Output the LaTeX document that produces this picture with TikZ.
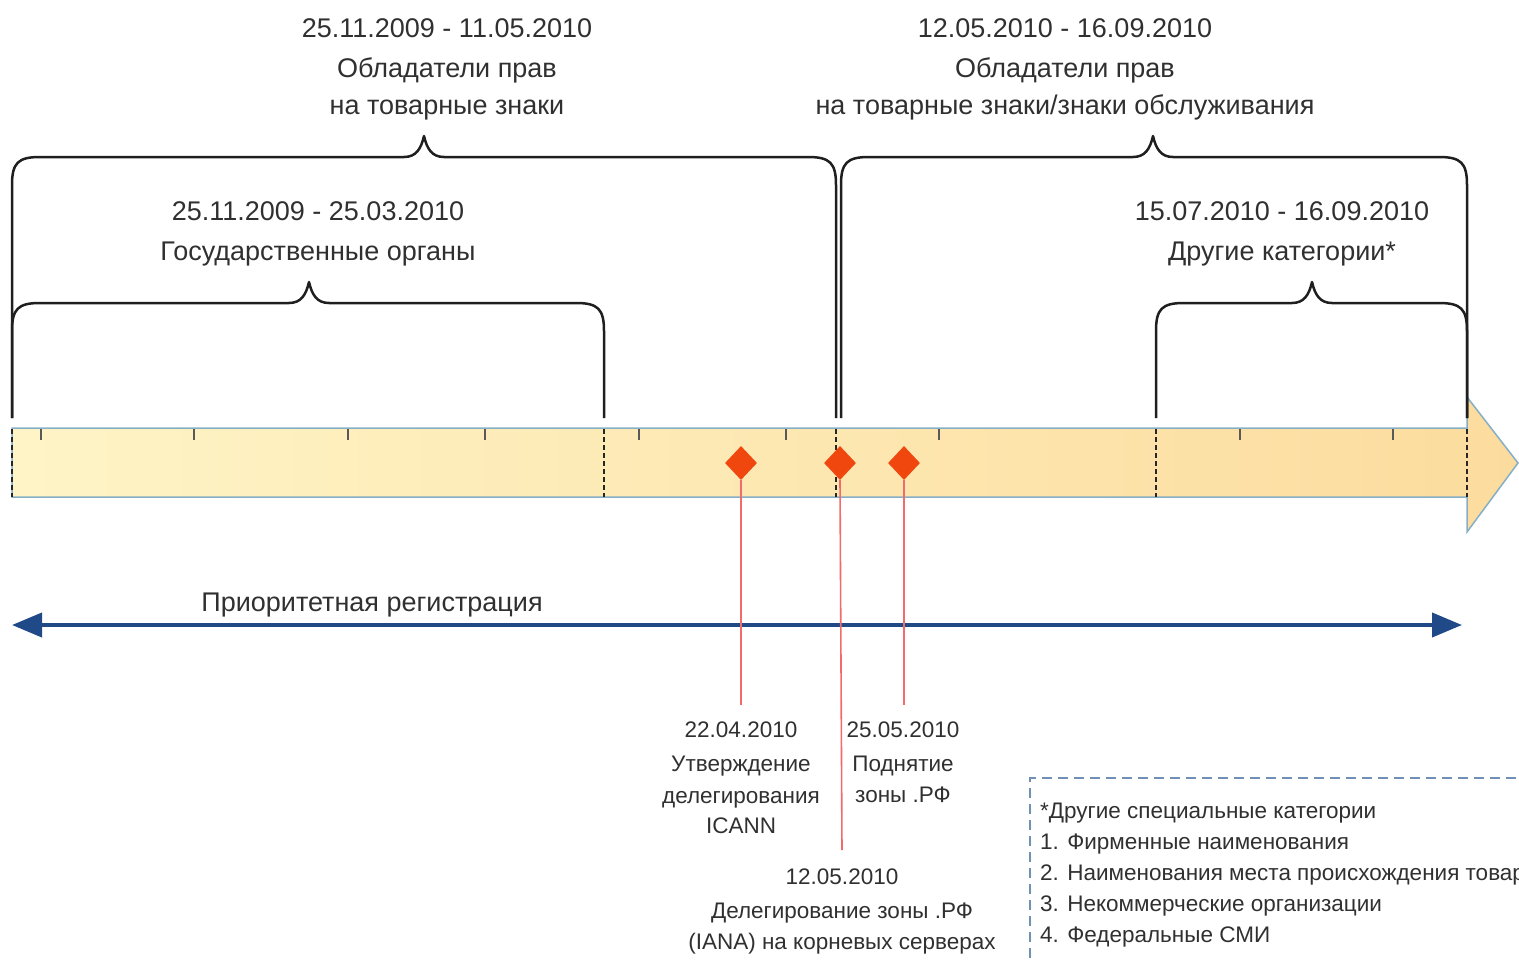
\documentclass[tikz,border=0pt]{standalone}
\usepackage{fontspec}
\setmainfont{Liberation Sans}
\usetikzlibrary{shapes.geometric,arrows.meta}
\definecolor{txt}{HTML}{303030}
\definecolor{barL}{HTML}{FEF4C6}
\definecolor{barR}{HTML}{FCDC9E}
\definecolor{barEdge}{HTML}{86AFC6}
\definecolor{dia}{HTML}{F0470F}
\definecolor{redline}{HTML}{F26A6A}
\definecolor{navy}{HTML}{1F4A87}
\definecolor{boxdash}{HTML}{6F8FB3}
\newcommand\mybrace[5]{% x1, x2, peak x, top y, bottom y
  \draw[bracestyle] (#1,#5) -- (#1,{#4+28}) .. controls (#1,{#4+6}) and ({#1+6},#4) .. ({#1+28},#4)
    -- ({#3-20},#4) .. controls ({#3-8},#4) and ({#3-3},{#4-8}) .. (#3,{#4-21})
    .. controls ({#3+3},{#4-8}) and ({#3+8},#4) .. ({#3+20},#4)
    -- ({#2-28},#4) .. controls ({#2-6},#4) and (#2,{#4+6}) .. (#2,{#4+28}) -- (#2,#5);}
\begin{document}
\begin{tikzpicture}[x=1pt,y=-1pt,
  big/.style={font=\fontsize{27}{30}\selectfont, text=txt, inner sep=0, anchor=base},
  small/.style={font=\fontsize{22.5}{26}\selectfont, text=txt, inner sep=0, anchor=base},
  legendtxt/.style={font=\fontsize{22.5}{26}\selectfont, text=txt, inner sep=0, anchor=base west},
  bracestyle/.style={line width=2.5pt, draw=black!88, line join=round},
  tickmark/.style={line width=1.6pt, draw=black!65},
  divider/.style={line width=1.4pt, draw=black!85, dash pattern=on 5pt off 3pt},
  marker/.style={diamond, fill=dia, minimum width=32pt, minimum height=34pt, inner sep=0},
  stem/.style={line width=1.6pt, draw=redline}]
\useasboundingbox (0,0) rectangle (1519,964);
\clip (0,0) rectangle (1519,964);

% timeline bar
\path[left color=barL, right color=barR, draw=barEdge, line width=1.5pt, line join=miter]
  (12,428) -- (1467,428) -- (1467,397) -- (1518,463) -- (1467,532) -- (1467,497) -- (12,497) -- cycle;
\foreach \t in {41,194,348,485,639,786,939,1240,1393}
  \draw[tickmark] (\t,429) -- (\t,440);
\foreach \d in {12,604,836,1156,1467}
  \draw[divider] (\d,429) -- (\d,497);

% braces
\mybrace{12}{836}{424}{157}{418}
\mybrace{841}{1467}{1153}{157}{418}
\mybrace{12}{604}{309}{303}{418}
\mybrace{1156}{1467}{1312}{303}{418}

% brace texts
\node[big] (t1a) at (447,37) {25.11.2009 - 11.05.2010};
\node[big] (t1b) at (447,77) {Обладатели прав};
\node[big] (t1c) at (447,114) {на товарные знаки};
\node[big] (t2a) at (1065,37) {12.05.2010 - 16.09.2010};
\node[big] (t2b) at (1065,77) {Обладатели прав};
\node[big] (t2c) at (1065,114) {на товарные знаки/знаки обслуживания};
\node[big] (t3a) at (318,220) {25.11.2009 - 25.03.2010};
\node[big] (t3b) at (318,260) {Государственные органы};
\node[big] (t4a) at (1282,220) {15.07.2010 - 16.09.2010};
\node[big] (t4b) at (1282,260) {Другие категории*};

% priority registration
\coordinate (pl) at (12,625);
\coordinate (pr) at (1462,625);
\draw[navy, line width=4pt, {Triangle[length=30pt,width=24pt]}-{Triangle[length=30pt,width=24pt]}] (pl) -- (pr);
\node[big] (prio) at (372,611) {Приоритетная регистрация};

% event markers
\node[marker] (d1) at (741,463) {};
\node[marker] (d2) at (840,463) {};
\node[marker] (d3) at (904,463) {};
\coordinate (e1) at (741,705);
\coordinate (e2) at (842,850);
\coordinate (e3) at (904,705);
\draw[stem] (d1.south) -- (e1);
\draw[stem] (d2.south) -- (e2);
\draw[stem] (d3.south) -- (e3);

\node[small] (l1a) at (741,737) {22.04.2010};
\node[small] (l1b) at (741,771) {Утверждение};
\node[small] (l1c) at (741,803) {делегирования};
\node[small] (l1d) at (741,833) {ICANN};
\node[small] (l3a) at (903,737) {25.05.2010};
\node[small] (l3b) at (903,771) {Поднятие};
\node[small] (l3c) at (903,802) {зоны .РФ};
\node[small] (l2a) at (842,884) {12.05.2010};
\node[small] (l2b) at (842,918) {Делегирование зоны .РФ};
\node[small] (l2c) at (842,949) {(IANA) на корневых серверах};

% legend box
\draw[boxdash, line width=1.3pt, dash pattern=on 10pt off 6pt] (1030,990) -- (1030,778) -- (1560,778);
\node[legendtxt] (g0) at (1040,818) {*Другие специальные категории};
\node[legendtxt] (g1) at (1040,849) {1. Фирменные наименования};
\node[legendtxt] (g2) at (1040,880) {2. Наименования места происхождения товаров};
\node[legendtxt] (g3) at (1040,911) {3. Некоммерческие организации};
\node[legendtxt] (g4) at (1040,942) {4. Федеральные СМИ};
\end{tikzpicture}
\end{document}
